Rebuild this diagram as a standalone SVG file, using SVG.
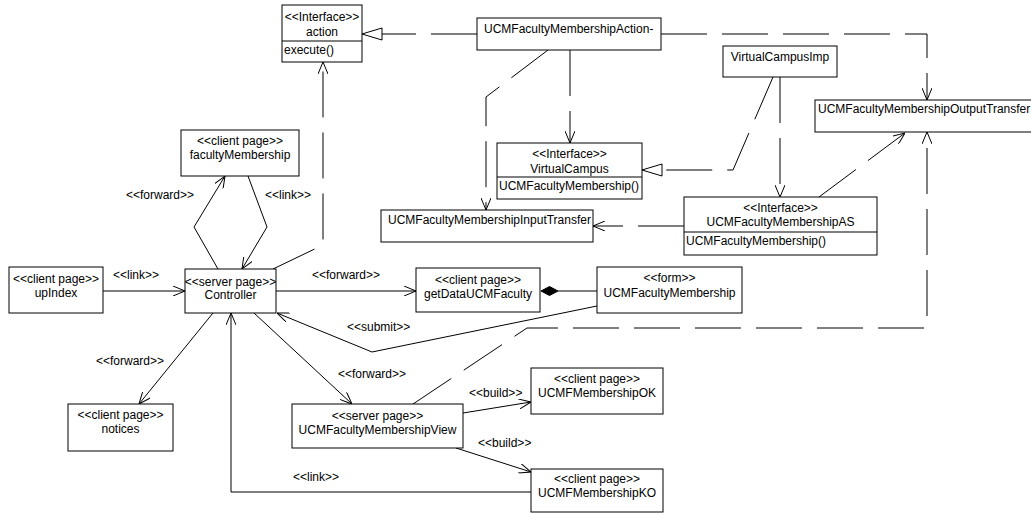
<svg xmlns="http://www.w3.org/2000/svg" width="1031" height="513" viewBox="0 0 1031 513">
<style>
.box{fill:#fff;stroke:#000;stroke-width:1}
.t{font-family:"Liberation Sans",Arial,sans-serif;font-size:12px;fill:#000}
.c{text-anchor:middle}
.ln{fill:none;stroke:#000;stroke-width:1}
.d{stroke-dasharray:46 15}
</style>
<defs>
<marker id="arr" markerUnits="userSpaceOnUse" viewBox="0 0 12 10" refX="12" refY="5" markerWidth="12" markerHeight="10" orient="auto">
<path d="M0,0 L12,5 L0,10" fill="none" stroke="#000" stroke-width="1" stroke-dasharray="none"/>
</marker>
<marker id="tri" markerUnits="userSpaceOnUse" viewBox="-1 -1 22 14" refX="20" refY="6" markerWidth="22" markerHeight="14" orient="auto">
<path d="M0,0 L20,6 L0,12 Z" fill="#fff" stroke="#000" stroke-width="1" stroke-dasharray="none"/>
</marker>
</defs>
<rect width="1031" height="513" fill="#fff"/>
<g id="connectors">
<path class="ln d" d="M477,34 L362,34" marker-end="url(#tri)"/>
<path class="ln d" d="M661,34 L927,34 L927,100" marker-end="url(#arr)"/>
<path class="ln d" d="M570,50 L570,143" marker-end="url(#arr)"/>
<path class="ln d" d="M548,50 L486,97 L486,210" marker-end="url(#arr)"/>
<path class="ln d" d="M773,77 L733,170 L642,170" marker-end="url(#tri)"/>
<path class="ln d" d="M780,77 L780,197" marker-end="url(#arr)"/>
<path class="ln d" d="M684,226 L593,226" marker-end="url(#arr)"/>
<path class="ln d" d="M819,197 L905,133" marker-end="url(#arr)"/>
<path class="ln d" d="M413,404 L527,328 L927,328 L927,132" marker-end="url(#arr)"/>
<path class="ln d" d="M273,269 L323,245 L323,62" marker-end="url(#arr)"/>
<path class="ln" d="M218,269 L194,227 L225,176" marker-end="url(#arr)"/>
<path class="ln" d="M248,176 L267,227 L242,269" marker-end="url(#arr)"/>
<path class="ln" d="M103,291 L185,291" marker-end="url(#arr)"/>
<path class="ln" d="M276,291 L416,291" marker-end="url(#arr)"/>
<path class="ln" d="M558,291 L597,291"/>
<polygon points="541,291 549.5,286.5 558,291 549.5,295.5" fill="#000" stroke="#000"/>
<path class="ln" d="M597,306 L372,352 L277,313" marker-end="url(#arr)"/>
<path class="ln" d="M213,313 L139,404" marker-end="url(#arr)"/>
<path class="ln" d="M254,313 L352,404" marker-end="url(#arr)"/>
<path class="ln" d="M531,492 L231,492 L231,313" marker-end="url(#arr)"/>
<path class="ln" d="M463,413 L531,402" marker-end="url(#arr)"/>
<path class="ln" d="M456,448 L531,472" marker-end="url(#arr)"/>
<text class="t" x="126" y="199">&lt;&lt;forward&gt;&gt;</text>
<text class="t" x="265" y="199">&lt;&lt;link&gt;&gt;</text>
<text class="t" x="113" y="279">&lt;&lt;link&gt;&gt;</text>
<text class="t" x="312" y="279">&lt;&lt;forward&gt;&gt;</text>
<text class="t" x="347" y="331">&lt;&lt;submit&gt;&gt;</text>
<text class="t" x="96" y="365">&lt;&lt;forward&gt;&gt;</text>
<text class="t" x="338" y="378">&lt;&lt;forward&gt;&gt;</text>
<text class="t" x="293" y="481">&lt;&lt;link&gt;&gt;</text>
<text class="t" x="469" y="397">&lt;&lt;build&gt;&gt;</text>
<text class="t" x="478" y="447">&lt;&lt;build&gt;&gt;</text>
</g>
<g id="action">
<rect class="box" x="282" y="5" width="80" height="57"/>
<line class="ln" x1="282" y1="41" x2="362" y2="41"/>
<text class="t c" x="322" y="21">&lt;&lt;Interface&gt;&gt;</text>
<text class="t c" x="322" y="36">action</text>
<text class="t" x="284" y="54">execute()</text>
</g>
<g id="membershipAction">
<rect class="box" x="477" y="18" width="184" height="32"/>
<text class="t" x="484" y="33">UCMFacultyMembershipAction-</text>
</g>
<g id="virtualCampusImp">
<rect class="box" x="723" y="46" width="114" height="31"/>
<text class="t c" x="780" y="61">VirtualCampusImp</text>
</g>
<g id="outputTransfer">
<rect class="box" x="815" y="100" width="230" height="32"/>
<text class="t" x="818" y="113">UCMFacultyMembershipOutputTransfer</text>
</g>
<g id="virtualCampus">
<rect class="box" x="497" y="143" width="145" height="56"/>
<line class="ln" x1="497" y1="177" x2="642" y2="177"/>
<text class="t c" x="569.5" y="158">&lt;&lt;Interface&gt;&gt;</text>
<text class="t c" x="569.5" y="173">VirtualCampus</text>
<text class="t" x="499" y="190">UCMFacultyMembership()</text>
</g>
<g id="inputTransfer">
<rect class="box" x="381" y="210" width="212" height="32"/>
<text class="t" x="388" y="224">UCMFacultyMembershipInputTransfer</text>
</g>
<g id="membershipAS">
<rect class="box" x="684" y="197" width="193" height="58"/>
<line class="ln" x1="684" y1="232" x2="877" y2="232"/>
<text class="t c" x="780.5" y="212">&lt;&lt;Interface&gt;&gt;</text>
<text class="t c" x="780.5" y="226">UCMFacultyMembershipAS</text>
<text class="t" x="686" y="245">UCMFacultyMembership()</text>
</g>
<g id="form">
<rect class="box" x="597" y="267" width="145" height="46"/>
<text class="t c" x="669.5" y="282">&lt;&lt;form&gt;&gt;</text>
<text class="t c" x="669.5" y="297">UCMFacultyMembership</text>
</g>
<g id="getData">
<rect class="box" x="416" y="268" width="124" height="44"/>
<text class="t c" x="478" y="284">&lt;&lt;client page&gt;&gt;</text>
<text class="t c" x="478" y="298">getDataUCMFaculty</text>
</g>
<g id="controller">
<rect class="box" x="185" y="269" width="91" height="44"/>
<text class="t c" x="230.5" y="286">&lt;&lt;server page&gt;&gt;</text>
<text class="t c" x="230.5" y="299">Controller</text>
</g>
<g id="upIndex">
<rect class="box" x="9" y="267" width="94" height="46"/>
<text class="t c" x="56" y="283">&lt;&lt;client page&gt;&gt;</text>
<text class="t c" x="56" y="297">upIndex</text>
</g>
<g id="facultyMembership">
<rect class="box" x="181" y="130" width="118" height="46"/>
<text class="t c" x="240" y="145">&lt;&lt;client page&gt;&gt;</text>
<text class="t c" x="240" y="159">facultyMembership</text>
</g>
<g id="notices">
<rect class="box" x="68" y="404" width="105" height="47"/>
<text class="t c" x="120.5" y="419">&lt;&lt;client page&gt;&gt;</text>
<text class="t c" x="120.5" y="433">notices</text>
</g>
<g id="membershipView">
<rect class="box" x="292" y="404" width="171" height="44"/>
<text class="t c" x="377.5" y="420">&lt;&lt;server page&gt;&gt;</text>
<text class="t c" x="377.5" y="434">UCMFacultyMembershipView</text>
</g>
<g id="membershipOK">
<rect class="box" x="531" y="368" width="132" height="46"/>
<text class="t c" x="597" y="383">&lt;&lt;client page&gt;&gt;</text>
<text class="t c" x="597" y="397">UCMFMembershipOK</text>
</g>
<g id="membershipKO">
<rect class="box" x="531" y="469" width="132" height="43"/>
<text class="t c" x="597" y="483">&lt;&lt;client page&gt;&gt;</text>
<text class="t c" x="597" y="497">UCMFMembershipKO</text>
</g>
</svg>
